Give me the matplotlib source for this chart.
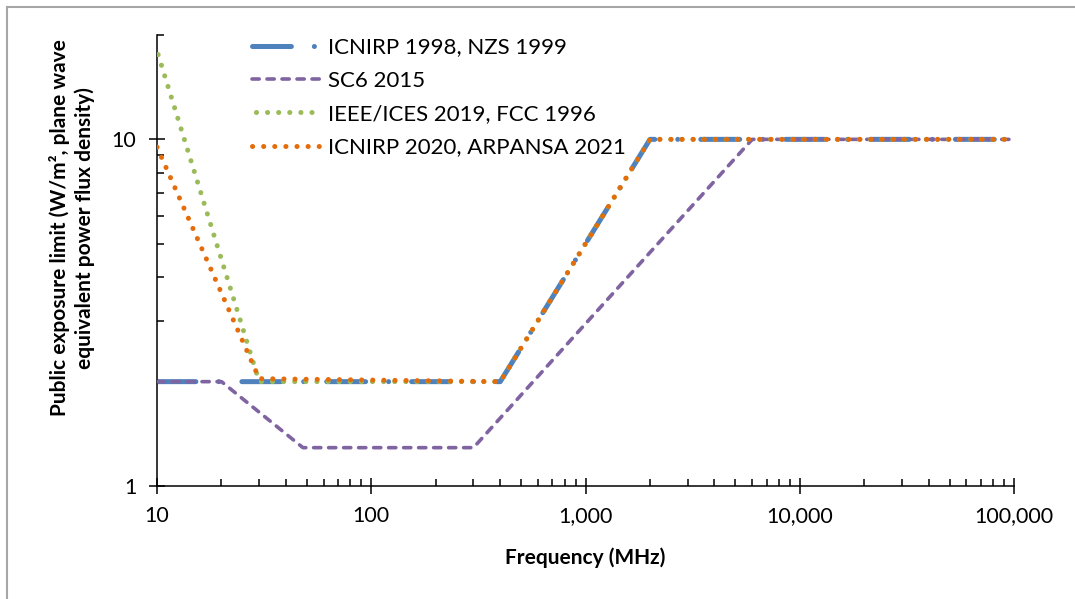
import matplotlib
matplotlib.use('Agg')
import matplotlib.pyplot as plt
from matplotlib.lines import Line2D
from matplotlib.ticker import FuncFormatter, LogLocator, NullFormatter, FixedLocator

plt.rcParams['font.family'] = ['Lato', 'DejaVu Sans']
plt.rcParams['lines.scale_dashes'] = False

# frequency (MHz) / limit (W/m^2) break points of each standard
f_icnirp98 = [10, 400, 2000, 100000]
s_icnirp98 = [2, 2, 10, 10]

f_sc6 = [10, 20, 48, 300, 6000, 100000]
s_sc6 = [2, 2, 1.29, 1.29, 10, 10]

f_ieee = [10, 30, 400, 2000, 100000]
s_ieee = [18, 2, 2, 10, 10]

f_icnirp20 = [10, 30, 400, 2000, 100000]
s_icnirp20 = [9.5, 2.04, 2, 10, 10]

labels = ["ICNIRP 1998, NZS 1999", "SC6 2015",
          "IEEE/ICES 2019, FCC 1996", "ICNIRP 2020, ARPANSA 2021"]
x_ticks = [10, 100, 1000, 10000, 100000]
y_ticks = [1, 10]


def main():
    fig = plt.figure(figsize=(10.75, 5.99), dpi=100)
    W, H = 1075, 599
    ax = fig.add_axes([157 / W, 1 - 486 / H, (1014 - 157) / W, (486 - 35) / H])

    ax.plot(f_icnirp98, s_icnirp98, color='#4F81BD', lw=3.6,
            dashes=(28, 16.5, 0.1, 16.5), dash_capstyle='round',
            solid_capstyle='round', label=labels[0], zorder=2)
    ax.plot(f_sc6, s_sc6, color='#8064A2', lw=2.6,
            dashes=(5.2, 5.6), dash_capstyle='round', label=labels[1], zorder=3)
    # offset so green dots sit under the orange ones on the shared segments
    ax.plot(f_ieee, s_ieee, color='#9BBB59', lw=3.6,
            linestyle=(5.2, (0.1, 7.9)), dash_capstyle='round',
            label=labels[2], zorder=4)
    ax.plot(f_icnirp20, s_icnirp20, color='#E46C0A', lw=3.6,
            linestyle=(0, (0.1, 7.9)), dash_capstyle='round',
            label=labels[3], zorder=5)

    ax.set_xscale('log')
    ax.set_yscale('log')
    ax.set_xlim(10, 100000)
    ax.set_ylim(1, 20)

    ax.xaxis.set_major_locator(FixedLocator(x_ticks))
    ax.xaxis.set_major_formatter(FuncFormatter(lambda v, p: '{:,.0f}'.format(v)))
    ax.xaxis.set_minor_locator(LogLocator(base=10, subs=range(2, 10)))
    ax.xaxis.set_minor_formatter(NullFormatter())
    ax.yaxis.set_major_locator(FixedLocator(y_ticks))
    ax.yaxis.set_major_formatter(FuncFormatter(lambda v, p: '{:g}'.format(v)))
    ax.yaxis.set_minor_locator(LogLocator(base=10, subs=range(2, 10)))
    ax.yaxis.set_minor_formatter(NullFormatter())

    ax.tick_params(which='major', direction='inout', length=11.5, width=1.1,
                   labelsize=15.5, pad=9)
    ax.tick_params(which='minor', direction='in', length=5, width=1.1)

    for side in ['top', 'right']:
        ax.spines[side].set_visible(False)
    for side in ['left', 'bottom']:
        ax.spines[side].set_linewidth(1.1)

    fig.text(585 / W, 1 - 558 / H, 'Frequency (MHz)', fontsize=15,
             fontweight='bold', ha='center', va='center')
    fig.text(72 / W, 1 - 228 / H,
             'Public exposure limit (W/m\u00b2, plane wave\nequivalent power flux density)',
             fontsize=15, fontweight='bold', rotation=90, ha='center',
             va='center', multialignment='center', linespacing=1.3)

    ax.legend(loc='upper left', bbox_to_anchor=(252 / W, 1 - 37.5 / H),
              bbox_transform=fig.transFigure, frameon=False, fontsize=16,
              handlelength=3.1, handletextpad=0.3, labelspacing=0.6,
              borderpad=0, borderaxespad=0)

    fig.add_artist(Line2D([7 / W, 1], [1 - 7 / H, 1 - 7 / H],
                          transform=fig.transFigure, color='#A6A6A6', lw=1.5))
    fig.add_artist(Line2D([7 / W, 7 / W], [0, 1 - 7 / H],
                          transform=fig.transFigure, color='#A6A6A6', lw=1.5))

    fig.savefig('out.png', dpi=100)


if __name__ == '__main__':
    main()
